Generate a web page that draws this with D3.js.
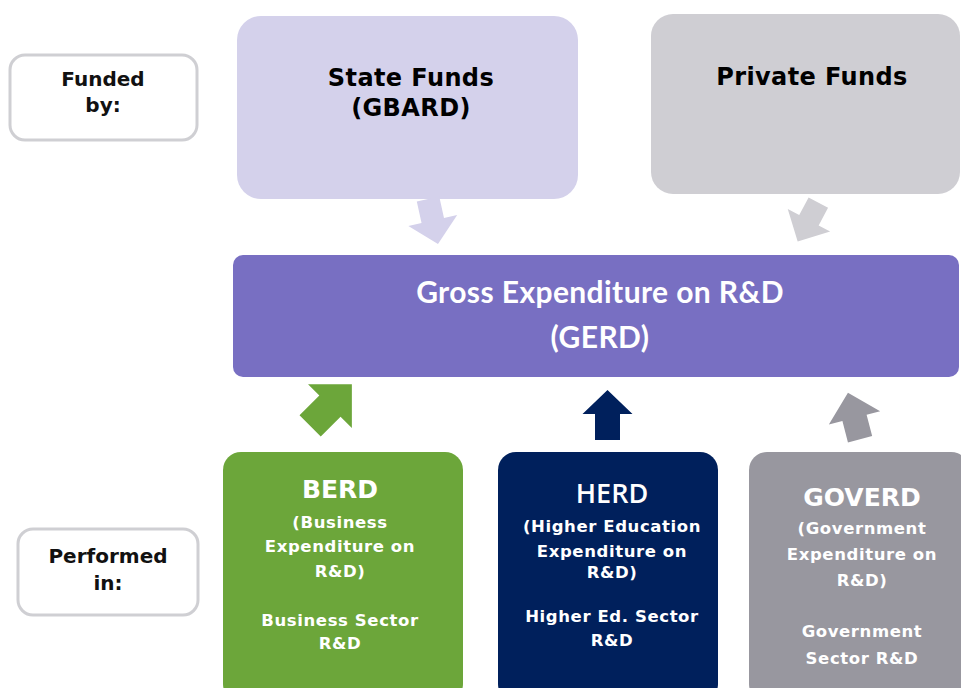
<!DOCTYPE html>
<html>
<head>
<meta charset="utf-8">
<script src="https://cdn.jsdelivr.net/npm/d3@7"></script>
<style>
  body { margin: 0; background: #fff; }
  svg { display: block; }
  text { font-family: "DejaVu Sans", sans-serif; }
</style>
</head>
<body>
<svg width="961" height="688"></svg>
<script>
// ---- data (text content of the diagram) ----
var rowLabels = [["Funded", "by:"], ["Performed", "in:"]];
var sourceNames = [["State Funds", "(GBARD)"], ["Private Funds"]];
var totalLines = ["Gross Expenditure on R&D", "(GERD)"];
var sectorCodes = ["BERD", "HERD", "GOVERD"];
var sectorFull = [
  ["(Business", "Expenditure on", "R&D)"],
  ["(Higher Education", "Expenditure on", "R&D)"],
  ["(Government", "Expenditure on", "R&D)"]
];
var sectorShort = [
  ["Business Sector", "R&D"],
  ["Higher Ed. Sector", "R&D"],
  ["Government", "Sector R&D"]
];

// ---- layout ----
var svg = d3.select('svg');

var labelBoxes = [
  {x: 10, y: 55, w: 187, h: 85, tx: 103, ty: [86, 112]},
  {x: 18, y: 529, w: 180, h: 86, tx: 108, ty: [563, 590]}
];
var sourceBoxes = [
  {x: 237, y: 16, w: 341, h: 183, r: 24, fill: '#d4d1eb', tx: 411, ty: [86, 116]},
  {x: 651, y: 14, w: 309, h: 180, r: 22, fill: '#cfced3', tx: 812, ty: [85]}
];
var totalBox = {x: 233, y: 255, w: 726, h: 122, r: 10, fill: '#786fc2', tx: 600, ty: [303, 348]};
var sectorBoxes = [
  {x: 223, y: 452, w: 240, h: 250, fill: '#6ca63a', tx: 340, title: 498, font: '"DejaVu Sans", sans-serif', weight: 'bold', size: 25, full: [528, 552, 577], short: [626, 649]},
  {x: 498, y: 452, w: 220, h: 250, fill: '#00205c', tx: 612, title: 503, font: '"Open Sans", sans-serif', weight: 600, size: 27, full: [532, 557, 578], short: [622, 646]},
  {x: 749, y: 452, w: 220, h: 250, fill: '#98979f', tx: 862, title: 506, font: '"DejaVu Sans", sans-serif', weight: 'bold', size: 25, full: [534, 560, 586], short: [637, 664]}
];
var arrows = [
  {cx: 433, cy: 221.5, rot: 167.5, len: 46, hw: 50, hl: 24, sw: 23, fill: '#d4d1eb'},
  {cx: 808, cy: 222, rot: 208, len: 44, hw: 48, hl: 24, sw: 22, fill: '#cfced3'},
  {cx: 331, cy: 405, rot: 45, len: 59, hw: 62, hl: 31, sw: 30, fill: '#6ca63a'},
  {cx: 607.5, cy: 415, rot: 0, len: 50, hw: 50, hl: 24, sw: 25, fill: '#00205c'},
  {cx: 854, cy: 416, rot: -14.6, len: 48, hw: 53, hl: 26, sw: 25, fill: '#98979f'}
];

function arrowPoints(d) {
  var t = -d.len / 2, n = t + d.hl, b = d.len / 2;
  return [[0, t], [d.hw / 2, n], [d.sw / 2, n], [d.sw / 2, b],
          [-d.sw / 2, b], [-d.sw / 2, n], [-d.hw / 2, n]];
}

// row labels
labelBoxes.forEach(function(b, i) {
  svg.append('rect')
    .attr('x', b.x).attr('y', b.y).attr('width', b.w).attr('height', b.h)
    .attr('rx', 15)
    .attr('fill', '#fff')
    .attr('stroke', '#cfcfd3')
    .attr('stroke-width', 3);
  svg.selectAll(null).data(rowLabels[i]).enter().append('text')
    .attr('x', b.tx)
    .attr('y', function(d, j) { return b.ty[j]; })
    .attr('text-anchor', 'middle')
    .attr('font-size', 20)
    .attr('font-weight', 'bold')
    .attr('fill', '#111')
    .text(function(d) { return d; });
});

// funding sources
sourceBoxes.forEach(function(b, i) {
  svg.append('rect')
    .attr('x', b.x).attr('y', b.y).attr('width', b.w).attr('height', b.h)
    .attr('rx', b.r)
    .attr('fill', b.fill);
  svg.selectAll(null).data(sourceNames[i]).enter().append('text')
    .attr('x', b.tx)
    .attr('y', function(d, j) { return b.ty[j]; })
    .attr('text-anchor', 'middle')
    .attr('font-size', 24)
    .attr('font-weight', 'bold')
    .attr('letter-spacing', 0.4)
    .attr('fill', '#000')
    .text(function(d) { return d; });
});

// GERD
svg.append('rect')
  .attr('x', totalBox.x).attr('y', totalBox.y)
  .attr('width', totalBox.w).attr('height', totalBox.h)
  .attr('rx', totalBox.r)
  .attr('fill', totalBox.fill);
svg.selectAll(null).data(totalLines).enter().append('text')
  .attr('x', totalBox.tx)
  .attr('y', function(d, j) { return totalBox.ty[j]; })
  .attr('text-anchor', 'middle')
  .style('font-family', 'Lato, sans-serif')
  .attr('font-size', 30)
  .attr('font-weight', 'bold')
  .attr('letter-spacing', 0.4)
  .attr('fill', '#fff')
  .text(function(d) { return d; });

// sectors
sectorBoxes.forEach(function(b, i) {
  svg.append('rect')
    .attr('x', b.x).attr('y', b.y).attr('width', b.w).attr('height', b.h)
    .attr('rx', 18)
    .attr('fill', b.fill);
  svg.append('text')
    .attr('x', b.tx).attr('y', b.title)
    .attr('text-anchor', 'middle')
    .style('font-family', b.font)
    .attr('font-size', b.size)
    .attr('font-weight', b.weight)
    .attr('fill', '#fff')
    .text(sectorCodes[i]);
  svg.selectAll(null).data(sectorFull[i]).enter().append('text')
    .attr('x', b.tx)
    .attr('y', function(d, j) { return b.full[j]; })
    .attr('text-anchor', 'middle')
    .attr('font-size', 16.5)
    .attr('font-weight', 'bold')
    .attr('letter-spacing', 0.6)
    .attr('fill', '#fff')
    .text(function(d) { return d; });
  svg.selectAll(null).data(sectorShort[i]).enter().append('text')
    .attr('x', b.tx)
    .attr('y', function(d, j) { return b.short[j]; })
    .attr('text-anchor', 'middle')
    .attr('font-size', 16.5)
    .attr('font-weight', 'bold')
    .attr('letter-spacing', 0.6)
    .attr('fill', '#fff')
    .text(function(d) { return d; });
});

// arrows
svg.selectAll('.arrow').data(arrows).enter().append('polygon')
  .attr('class', 'arrow')
  .attr('points', function(d) { return arrowPoints(d).join(' '); })
  .attr('transform', function(d) { return 'translate(' + d.cx + ',' + d.cy + ') rotate(' + d.rot + ')'; })
  .attr('fill', function(d) { return d.fill; });
</script>
</body>
</html>
